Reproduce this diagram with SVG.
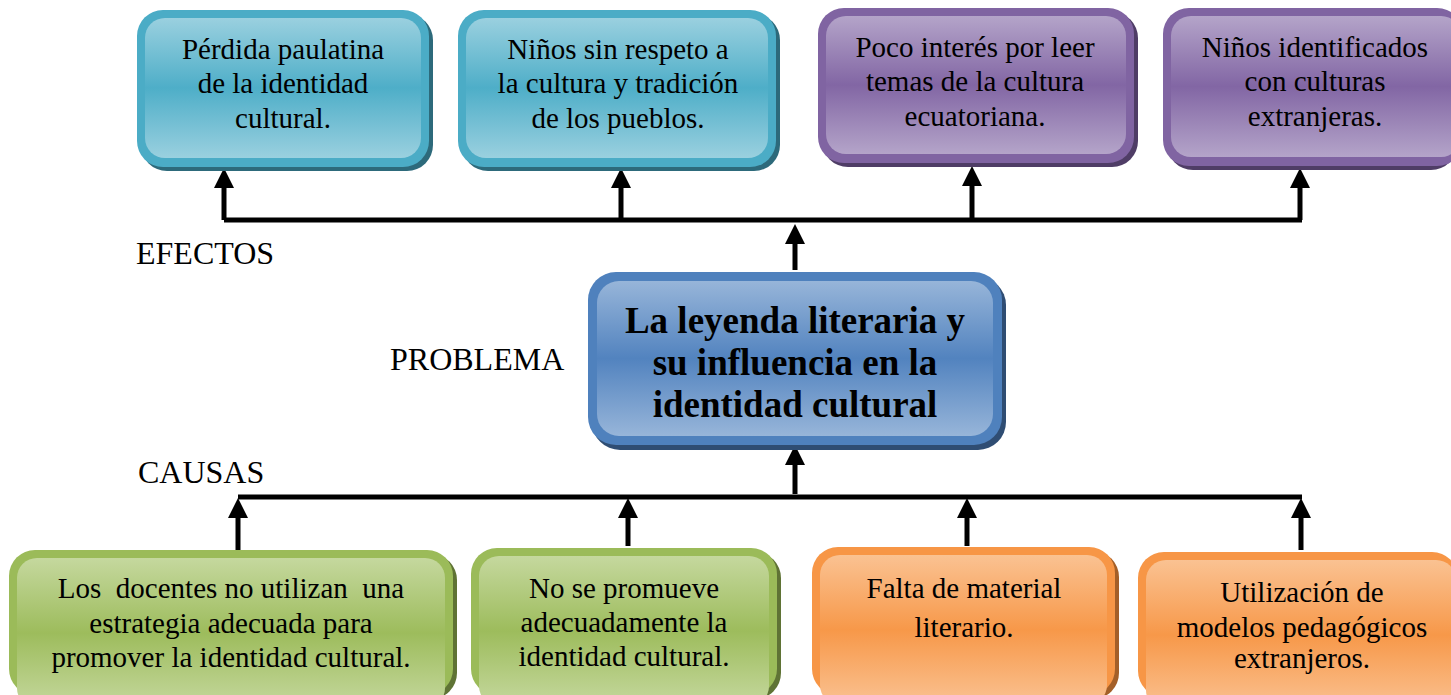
<svg xmlns="http://www.w3.org/2000/svg" width="1451" height="695" viewBox="0 0 1451 695">
<defs>
<linearGradient id="gT" x1="0" y1="0" x2="0" y2="1"><stop offset="0" stop-color="#9ad0df"/><stop offset="0.5" stop-color="#4eaec8"/><stop offset="1" stop-color="#9ad0df"/></linearGradient>
<linearGradient id="gP" x1="0" y1="0" x2="0" y2="1"><stop offset="0" stop-color="#b4a4c9"/><stop offset="0.5" stop-color="#8266a4"/><stop offset="1" stop-color="#b4a4c9"/></linearGradient>
<linearGradient id="gB" x1="0" y1="0" x2="0" y2="1"><stop offset="0" stop-color="#97b5d9"/><stop offset="0.5" stop-color="#5283bf"/><stop offset="1" stop-color="#97b5d9"/></linearGradient>
<linearGradient id="gG" x1="0" y1="0" x2="0" y2="1"><stop offset="0" stop-color="#c5d89e"/><stop offset="0.5" stop-color="#9dbc5c"/><stop offset="1" stop-color="#c5d89e"/></linearGradient>
<linearGradient id="gO" x1="0" y1="0" x2="0" y2="1"><stop offset="0" stop-color="#fac292"/><stop offset="0.5" stop-color="#f79849"/><stop offset="1" stop-color="#fac292"/></linearGradient>
<marker id="ah" markerWidth="4" markerHeight="4" refX="2" refY="2" orient="auto" markerUnits="strokeWidth" viewBox="0 0 4 4"><path d="M0,0 L4,2 L0,4 Z" fill="#000"/></marker>
</defs>
<style>
.t{font-family:"Liberation Serif","Times New Roman",serif;font-size:29px;fill:#000;text-anchor:middle;white-space:pre}
.lbl{font-family:"Liberation Serif","Times New Roman",serif;font-size:32px;fill:#000}
.big{font-family:"Liberation Serif","Times New Roman",serif;font-size:37px;font-weight:bold;fill:#000;text-anchor:middle}
.c{stroke:#000;stroke-width:5;fill:none}
.a{stroke:#000;stroke-width:5;fill:none;marker-end:url(#ah)}
.shT{fill:#2d6a7b}.shP{fill:#4f3d66}.shB{fill:#2f4d73}.shG{fill:#5f7335}.shO{fill:#a45f28}
</style>
<rect width="1451" height="695" fill="#fff"/>

<g id="connectors">
<polyline class="c" points="224,220 1302,220"/>
<line class="a" x1="224" y1="220" x2="224" y2="178"/>
<line class="a" x1="621" y1="220" x2="621" y2="178"/>
<line class="a" x1="972" y1="220" x2="972" y2="176"/>
<line class="a" x1="1300" y1="220" x2="1300" y2="178"/>
<line class="a" x1="795" y1="270" x2="795" y2="234"/>
<polyline class="c" points="238,497 1302,497"/>
<line class="a" x1="795" y1="494" x2="795" y2="455"/>
<line class="a" x1="238" y1="550" x2="238" y2="508"/>
<line class="a" x1="628" y1="546" x2="628" y2="508"/>
<line class="a" x1="967" y1="546" x2="967" y2="508"/>
<line class="a" x1="1301" y1="550" x2="1301" y2="508"/>
</g>

<g id="lbl-efectos"><text class="lbl" x="136" y="264">EFECTOS</text></g>
<g id="lbl-problema"><text class="lbl" x="390" y="370">PROBLEMA</text></g>
<g id="lbl-causas"><text class="lbl" x="138" y="483">CAUSAS</text></g>

<g id="e1">
<rect class="shT" x="141" y="14" width="292" height="157" rx="26"/>
<rect x="137" y="10" width="292" height="157" rx="26" fill="#4bacc6"/>
<rect x="145" y="18" width="276" height="140" rx="20" fill="url(#gT)"/>
<text class="t" x="283" y="59">Pérdida paulatina</text>
<text class="t" x="283" y="93">de la identidad</text>
<text class="t" x="283" y="128">cultural.</text>
</g>
<g id="e2">
<rect class="shT" x="462" y="14" width="318" height="157" rx="26"/>
<rect x="458" y="10" width="318" height="157" rx="26" fill="#4bacc6"/>
<rect x="466" y="18" width="302" height="140" rx="20" fill="url(#gT)"/>
<text class="t" x="618" y="59">Niños sin respeto a</text>
<text class="t" x="618" y="93">la cultura y tradición</text>
<text class="t" x="618" y="128">de los pueblos.</text>
</g>
<g id="e3">
<rect class="shP" x="822" y="12" width="316" height="155" rx="26"/>
<rect x="818" y="8" width="316" height="155" rx="26" fill="#8064a2"/>
<rect x="826" y="16" width="300" height="138" rx="20" fill="url(#gP)"/>
<text class="t" x="975" y="57">Poco interés por leer</text>
<text class="t" x="975" y="91">temas de la cultura</text>
<text class="t" x="975" y="126">ecuatoriana.</text>
</g>
<g id="e4">
<rect class="shP" x="1167" y="12" width="290" height="158" rx="26"/>
<rect x="1163" y="8" width="300" height="158" rx="26" fill="#8064a2"/>
<rect x="1171" y="16" width="290" height="141" rx="20" fill="url(#gP)"/>
<text class="t" x="1315" y="57">Niños identificados</text>
<text class="t" x="1315" y="91">con culturas</text>
<text class="t" x="1315" y="126">extranjeras.</text>
</g>

<g id="problema">
<rect class="shB" x="592" y="277" width="414" height="173" rx="28"/>
<rect x="588" y="272" width="414" height="173" rx="28" fill="#4f81bd"/>
<rect x="597" y="281" width="396" height="155" rx="22" fill="url(#gB)"/>
<text class="big" x="795" y="333">La leyenda literaria y</text>
<text class="big" x="795" y="375">su influencia en la</text>
<text class="big" x="795" y="417">identidad cultural</text>
</g>

<g id="c1">
<rect class="shG" x="13" y="554" width="444" height="145" rx="26"/>
<rect x="9" y="550" width="444" height="145" rx="26" fill="#9bbb59"/>
<rect x="17" y="558" width="428" height="150" rx="20" fill="url(#gG)"/>
<text class="t" x="231" y="598" xml:space="preserve">Los  docentes no utilizan  una</text>
<text class="t" x="231" y="633">estrategia adecuada para</text>
<text class="t" x="231" y="667">promover la identidad cultural.</text>
</g>
<g id="c2">
<rect class="shG" x="475" y="552" width="306" height="147" rx="26"/>
<rect x="471" y="548" width="306" height="147" rx="26" fill="#9bbb59"/>
<rect x="479" y="556" width="290" height="150" rx="20" fill="url(#gG)"/>
<text class="t" x="624" y="598">No se promueve</text>
<text class="t" x="624" y="632">adecuadamente la</text>
<text class="t" x="624" y="666">identidad cultural.</text>
</g>
<g id="c3">
<rect class="shO" x="816" y="551" width="303" height="148" rx="26"/>
<rect x="812" y="547" width="303" height="148" rx="26" fill="#f79646"/>
<rect x="820" y="555" width="287" height="150" rx="20" fill="url(#gO)"/>
<text class="t" x="964" y="598">Falta de material</text>
<text class="t" x="964" y="637">literario.</text>
</g>
<g id="c4">
<rect class="shO" x="1142" y="556" width="313" height="145" rx="26"/>
<rect x="1138" y="552" width="320" height="145" rx="26" fill="#f79646"/>
<rect x="1146" y="560" width="310" height="150" rx="20" fill="url(#gO)"/>
<text class="t" x="1302" y="602">Utilización de</text>
<text class="t" x="1302" y="637">modelos pedagógicos</text>
<text class="t" x="1302" y="668">extranjeros.</text>
</g>
</svg>
